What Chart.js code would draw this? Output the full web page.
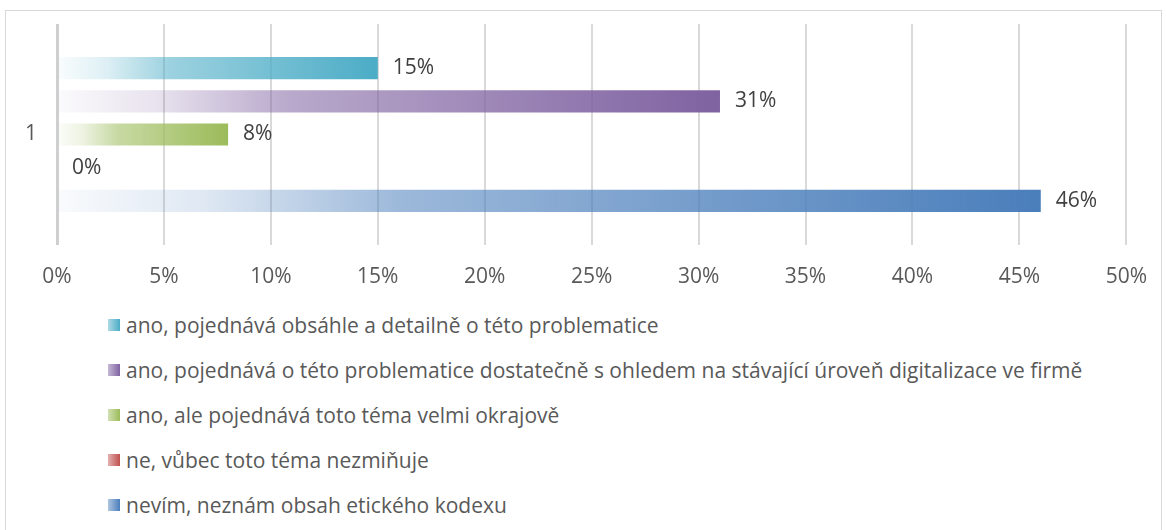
<!DOCTYPE html>
<html lang="cs">
<head>
    <meta charset="UTF-8">
    <title>Etický kodex</title>
    <script src="https://cdn.jsdelivr.net/npm/chart.js"></script>
    <style>
        html, body { margin: 0; padding: 0; background: #fff; }
        #wrap { position: relative; width: 1166px; height: 530px; overflow: hidden; }
        #frame { position: absolute; left: 5px; top: 10px; width: 1155px; height: 540px; border: 1px solid #d9d9d9; }
        #chartBox { position: absolute; left: 0; top: 0; width: 1166px; height: 300px; }
        #legend { position: absolute; left: 108px; top: 302px; font-family: "Open Sans", sans-serif; font-size: 21px; color: #595959; }
        #legend .row { display: flex; align-items: center; height: 45px; white-space: nowrap; }
        #legend .mark { width: 12px; height: 12px; margin-right: 6px; }
    </style>
</head>
<body>
<div id="wrap">
    <div id="frame"></div>
    <div id="chartBox"><canvas id="myChart"></canvas></div>
    <div id="legend"></div>
</div>
<script>
    const categories = ['1'];
    const seriesLabels = [
        'ano, pojednává obsáhle a detailně o této problematice',
        'ano, pojednává o této problematice dostatečně s ohledem na stávající úroveň digitalizace ve firmě',
        'ano, ale pojednává toto téma velmi okrajově',
        'ne, vůbec toto téma nezmiňuje',
        'nevím, neznám obsah etického kodexu'
    ];
    const seriesValues = [15, 31, 8, 0, 46];
    const seriesColors = ['#4BACC6', '#7F62A1', '#9BBB59', '#C0504D', '#4A7EBB'];
    const xTickMax = 50;
    const xTickStep = 5;

    function rgba(hex, a) {
        const n = parseInt(hex.slice(1), 16);
        return `rgba(${(n >> 16) & 255},${(n >> 8) & 255},${n & 255},${a})`;
    }

    function barGradient(color) {
        return (ctx) => {
            const chart = ctx.chart;
            const xs = chart.scales.x;
            if (!chart.chartArea || !xs) return color;
            const x0 = xs.getPixelForValue(0);
            const x1 = xs.getPixelForValue(ctx.raw);
            if (x1 - x0 < 1) return color;
            const g = chart.ctx.createLinearGradient(x0, 0, x1, 0);
            g.addColorStop(0, rgba(color, 0.03));
            g.addColorStop(0.15, rgba(color, 0.18));
            g.addColorStop(0.35, rgba(color, 0.55));
            g.addColorStop(1, rgba(color, 1));
            return g;
        };
    }

    const font = { family: '"Open Sans", sans-serif', size: 21 };

    // value labels to the right of each bar
    const valueLabels = {
        id: 'valueLabels',
        afterDatasetsDraw(chart) {
            const c = chart.ctx;
            c.save();
            c.font = `${font.size}px ${font.family}`;
            c.fillStyle = '#404040';
            c.textBaseline = 'middle';
            c.textAlign = 'left';
            chart.data.datasets.forEach((ds, i) => {
                chart.getDatasetMeta(i).data.forEach((el, j) => {
                    c.fillText(ds.data[j] + '%', el.x + 15, el.y);
                });
            });
            c.restore();
        }
    };

    new Chart(document.getElementById('myChart'), {
        type: 'bar',
        data: {
            labels: categories,
            datasets: seriesLabels.map((label, i) => ({
                label,
                data: [seriesValues[i]],
                backgroundColor: barGradient(seriesColors[i]),
                categoryPercentage: 0.75,
                barPercentage: 0.67
            }))
        },
        options: {
            indexAxis: 'y',
            responsive: true,
            maintainAspectRatio: false,
            animation: false,
            layout: { padding: { top: 24, right: 39, left: 0, bottom: 0 } },
            plugins: {
                legend: { display: false },
                tooltip: { enabled: false }
            },
            scales: {
                x: {
                    min: 0,
                    max: xTickMax,
                    ticks: {
                        stepSize: xTickStep,
                        padding: 19,
                        color: '#595959',
                        font,
                        callback: v => v + '%'
                    },
                    grid: {
                        drawTicks: false,
                        color: ctx => ctx.index === 0 ? '#cfcfcf' : '#d9d9d9',
                        lineWidth: ctx => ctx.index === 0 ? 3 : 2
                    },
                    border: { display: false },
                    afterFit: s => { s.height = 55; }
                },
                y: {
                    ticks: { color: '#595959', font, padding: 20 },
                    grid: { display: false, drawTicks: false },
                    border: { display: false },
                    afterFit: s => {
                        s.width = 57;
                        s.paddingTop = 0;
                        s.paddingBottom = 0;
                    }
                }
            }
        },
        plugins: [valueLabels]
    });

    const legend = document.getElementById('legend');
    seriesLabels.forEach((label, i) => {
        const row = document.createElement('div');
        row.className = 'row';
        const mark = document.createElement('span');
        mark.className = 'mark';
        mark.style.background = `linear-gradient(to right, ${rgba(seriesColors[i], 0.45)}, ${seriesColors[i]})`;
        const text = document.createElement('span');
        text.textContent = label;
        row.appendChild(mark);
        row.appendChild(text);
        legend.appendChild(row);
    });
</script>
</body>
</html>
